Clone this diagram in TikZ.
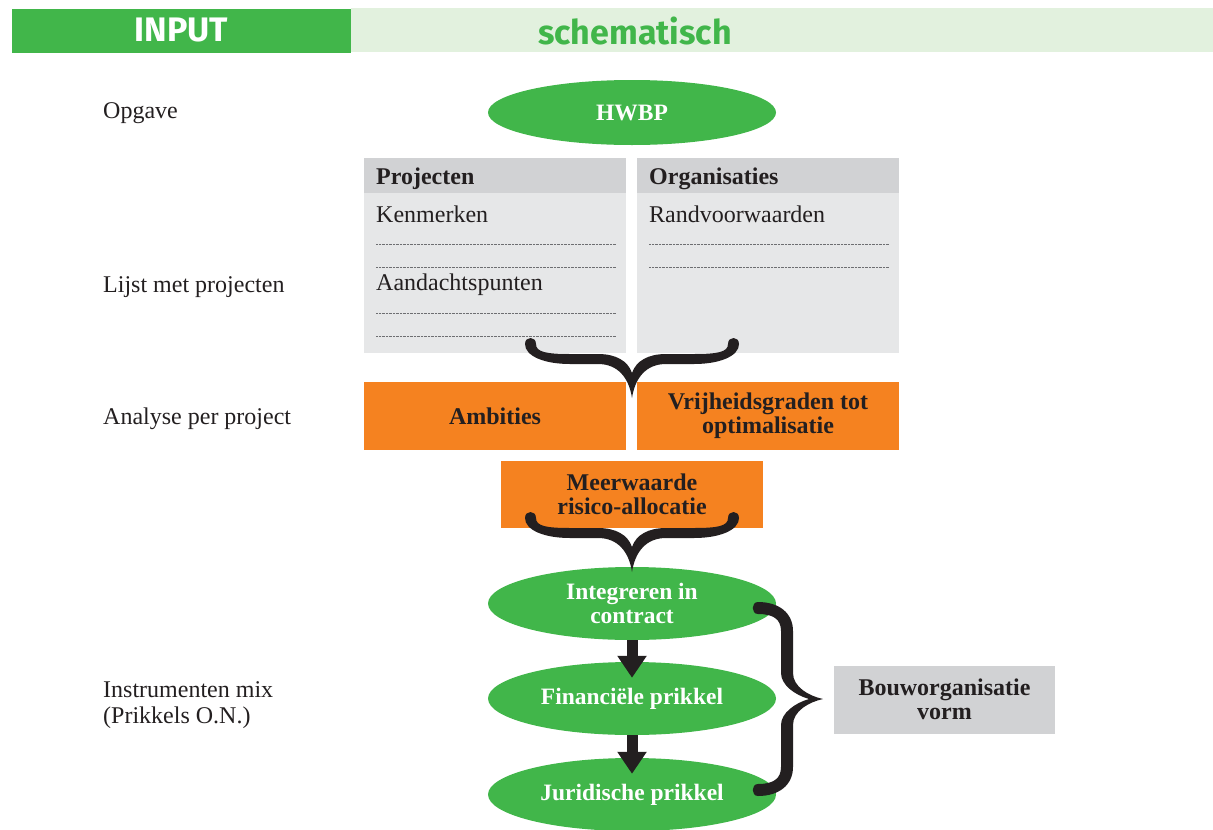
\documentclass[tikz,border=0pt]{standalone}
\usepackage{fontspec}
\setmainfont{Liberation Serif}
\newfontfamily\hdrfont{Fira Sans}
\usetikzlibrary{shapes.geometric,arrows.meta}
\definecolor{grn}{HTML}{41B64A}
\definecolor{lgrn}{HTML}{E2F1DE}
\definecolor{org}{HTML}{F58220}
\definecolor{ghd}{HTML}{D1D2D4}
\definecolor{gbd}{HTML}{E6E7E8}
\definecolor{txt}{HTML}{231F20}
\definecolor{dotc}{HTML}{6D6E71}
\begin{document}
\begin{tikzpicture}[x=1pt,y=-1pt,
  lbl/.style={anchor=west, inner sep=0pt, text=txt, font=\fontsize{24}{26}\selectfont, align=left},
  blbl/.style={anchor=west, inner sep=0pt, text=txt, font=\bfseries\fontsize{24}{26}\selectfont},
  ell/.style={ellipse, fill=grn, minimum width=288pt, minimum height=73pt, inner sep=0pt, text=white, font=\bfseries\fontsize{23.5}{24}\selectfont, align=center},
  obox/.style={rectangle, fill=org, minimum width=262pt, minimum height=68pt, inner sep=0pt, text=txt, font=\bfseries\fontsize{24}{24}\selectfont, align=center},
  ghead/.style={rectangle, fill=ghd, minimum width=262pt, minimum height=35pt, inner sep=0pt},
  gbody/.style={rectangle, fill=gbd, minimum width=262pt, minimum height=160pt, inner sep=0pt},
  dotline/.style={draw=dotc, line width=0.7pt, dash pattern=on 0.7pt off 0.7pt},
  blockarrow/.style={draw=txt, line width=11pt, -{Triangle[width=28pt,length=22pt]}, shorten >=-16pt},
  hbar/.style={rectangle, minimum height=44pt, inner sep=0pt, font=\hdrfont\bfseries\fontsize{34}{36}\selectfont}
]
\useasboundingbox (0,0) rectangle (1213,830);

% header
\node[hbar, fill=grn, minimum width=339pt, text=white] (inp) at (181.5,30.5) {INPUT};
\node[hbar, fill=lgrn, minimum width=862pt] (schbar) at (782,30) {};
\node[inner sep=0pt, font=\hdrfont\bfseries\fontsize{34}{36}\selectfont, text=grn] (sch) at (635,31) {schematisch};

% left labels
\node[lbl] (l1) at (103,113) {Opgave};
\node[lbl] (l2) at (103,287) {Lijst met projecten};
\node[lbl] (l3) at (103,419) {Analyse per project};
\node[lbl] (l4) at (103,705) {Instrumenten mix\\(Prikkels O.N.)};

% HWBP
\node[ell, minimum height=65pt] (hwbp) at (632,112.5) {HWBP};

% Projecten / Organisaties boxes
\node[ghead] (projh) at (495,175.5) {};
\node[gbody] (projb) at (495,273) {};
\node[ghead] (orgh) at (768,175.5) {};
\node[gbody] (orgb) at (768,273) {};
\node[blbl] (tproj) at (376,179) {Projecten};
\node[blbl] (torg) at (649,179) {Organisaties};
\node[lbl] (tken) at (376,214) {Kenmerken};
\node[lbl] (taan) at (376,285) {Aandachtspunten};
\node[lbl] (trand) at (649,214) {Randvoorwaarden};
\draw[dotline] (376,244) -- (616,244);
\draw[dotline] (376,267) -- (616,267);
\draw[dotline] (376,313) -- (616,313);
\draw[dotline] (376,336) -- (616,336);
\draw[dotline] (649,244) -- (889,244);
\draw[dotline] (649,267) -- (889,267);

% orange boxes
\node[obox] (amb) at (495,416) {Ambities};
\node[obox] (vrij) at (768,416) {Vrijheidsgraden tot\\optimalisatie};
\node[obox, minimum height=67pt] (meer) at (632,494.5) {Meerwaarde\\risico-allocatie};

% green ellipses
\node[ell] (integ) at (632,603.5) {Integreren in\\contract};
\node[ell] (fin) at (632,698.5) {Financi\"ele prikkel};
\node[ell] (jur) at (632,794.5) {Juridische prikkel};

% bouworganisatie
\node[rectangle, fill=ghd, minimum width=221pt, minimum height=68pt, inner sep=0pt, text=txt, font=\bfseries\fontsize{24}{24}\selectfont, align=center] (bouw) at (944.5,699.5) {Bouworganisatie\\vorm};

% arrows
\draw[blockarrow] (integ.south) -- (fin.north);
\draw[blockarrow] (fin.south) -- (jur.north);

% horizontal braces
\foreach \ty in {398,572}{
\begin{scope}[shift={(632,\ty)}]
\fill[txt] (-96,-54) .. controls (-96,-46) and (-86,-44) .. (-62,-44) -- (-34,-44) .. controls (-16,-44) and (-4,-37) .. (0,-25)
 .. controls (4,-37) and (16,-44) .. (34,-44) -- (62,-44) .. controls (86,-44) and (96,-46) .. (96,-54)
 .. controls (96,-62) and (107,-62) .. (107,-54)
 .. controls (107,-42) and (88,-34) .. (62,-34) -- (34,-34) .. controls (14,-34) and (3,-20) .. (0,0)
 .. controls (-3,-20) and (-14,-34) .. (-34,-34) -- (-62,-34) .. controls (-88,-34) and (-107,-42) .. (-107,-54)
 .. controls (-107,-62) and (-96,-62) .. (-96,-54) -- cycle;
\end{scope}
}

% vertical brace
\begin{scope}[shift={(823,699)}, x={(0pt,-1pt)}, y={(1pt,0pt)}]
\fill[txt] (-85,-65) .. controls (-85,-50) and (-80,-42) .. (-68,-42) -- (-26,-42) .. controls (-14,-42) and (-4,-28) .. (0,-14)
 .. controls (4,-28) and (14,-42) .. (26,-42) -- (68,-42) .. controls (80,-42) and (85,-50) .. (85,-65)
 .. controls (85,-72) and (97,-72) .. (97,-65)
 .. controls (97,-44) and (86,-30) .. (68,-30) -- (26,-30) .. controls (12,-30) and (3,-14) .. (0,0)
 .. controls (-3,-14) and (-12,-30) .. (-26,-30) -- (-68,-30) .. controls (-86,-30) and (-97,-44) .. (-97,-65)
 .. controls (-97,-72) and (-85,-72) .. (-85,-65) -- cycle;
\end{scope}
\end{tikzpicture}
\end{document}
